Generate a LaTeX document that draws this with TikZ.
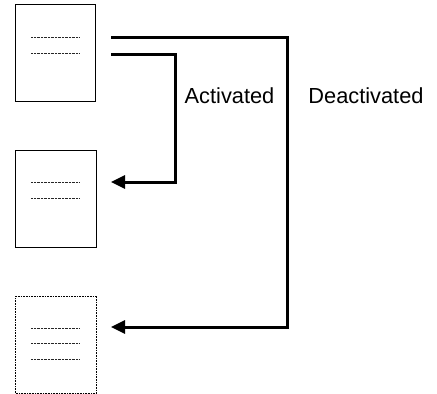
\documentclass[tikz,border=0pt]{standalone}
\usepackage{fontspec}
\setmainfont{Liberation Sans}
\usetikzlibrary{arrows.meta}
\begin{document}
\begin{tikzpicture}[x=1pt,y=-1pt,
  doc/.style={draw=black,line width=1pt,minimum width=80pt,minimum height=97pt,inner sep=0pt,anchor=north west},
  docdot/.style={doc,dash pattern=on 1pt off 0.6pt,line width=1.4pt},
  txtline/.style={line width=0.8pt,dash pattern=on 0.8pt off 0.6pt,black!85},
  conn/.style={line width=3pt,-{Triangle[length=14pt,width=13pt]}},
  lab/.style={font=\fontsize{21.8}{26}\selectfont,anchor=base,inner sep=0pt}]
\useasboundingbox (0,0) rectangle (437,394);
\node[doc] (b1) at (15,4) {};
\node[doc,minimum width=81pt] (b2) at (15,150) {};
\node[docdot,minimum width=81pt,minimum height=97pt] (b3) at (15,295.5) {};
% text lines
\foreach \y in {37,53} \draw[txtline] (31,\y) -- (79,\y);
\foreach \y in {182,198} \draw[txtline] (31,\y) -- (79,\y);
\foreach \y in {328,343,359} \draw[txtline] (31,\y) -- (79,\y);
% connectors
\coordinate (s1) at (111,37.5);
\coordinate (s2) at (111,54);
\coordinate (t2) at (111,182);
\coordinate (t3) at (111,327);
\draw[conn] (s1) -- (287,37.5) -- (287,327) -- (t3);
\draw[conn] (s2) -- (175,54) -- (175,182) -- (t2);
\node[lab] (la) at (229.5,103) {Activated};
\node[lab] (ld) at (366,103) {Deactivated};
\end{tikzpicture}
\end{document}
